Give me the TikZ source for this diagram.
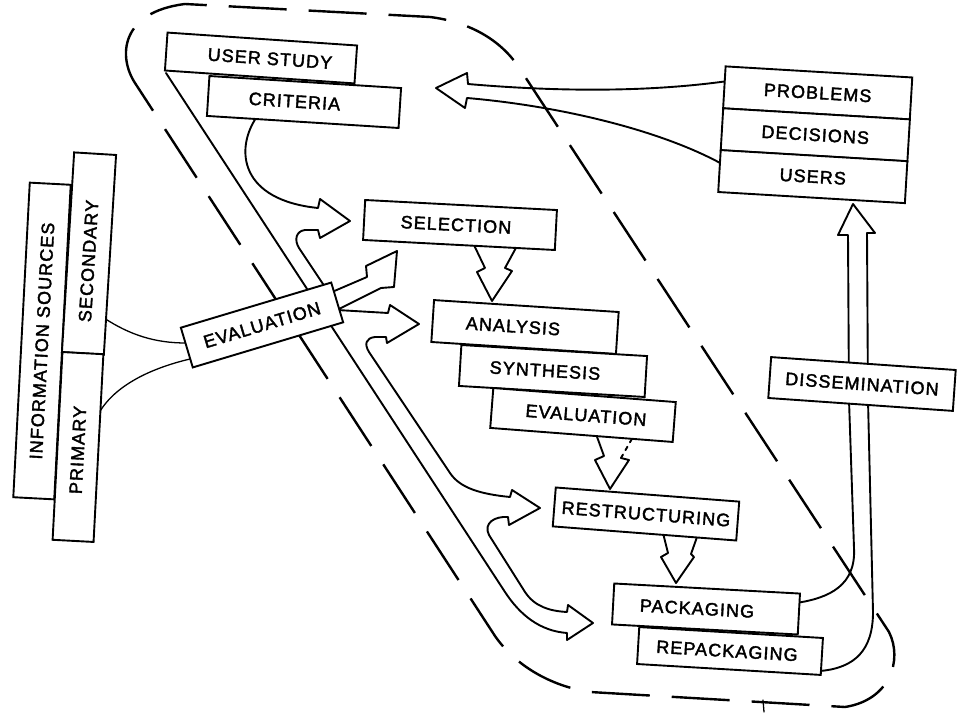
\documentclass[tikz,border=0pt]{standalone}
\usepackage{fontspec}
\newfontfamily\boxfont[LetterSpace=6,FakeBold=2]{Liberation Sans}
\begin{document}
\begin{tikzpicture}[x=1pt,y=-1pt,
  ln/.style={line width=1.9pt,line join=round,line cap=round},
  fine/.style={line width=1.3pt,line cap=round},
  loopline/.style={line width=2.4pt,dash pattern=on 58pt off 22pt},
  box/.style={draw,fill=white,line width=1.9pt,inner sep=0pt,font=\boxfont\fontsize{18}{21}\selectfont},
]
\fill[white] (0,0) rectangle (967,714);
\useasboundingbox (0,0) rectangle (967,714);

% dashed boundary loop
\draw[loopline] (135,83) .. controls (118,57) and (120,12) .. (185,4) -- (430,17)
  .. controls (470,22) and (500,40) .. (518,66) -- (889,632)
  .. controls (903,660) and (890,700) .. (845,707) -- (590,692)
  .. controls (550,686) and (515,665) .. (495,636) -- cycle;
\draw[fine] (763,700) -- (764,712);

% main channel: outer wall, packaging / restructuring / analysis / selection arrows
\draw[ln] (166,73) -- (505,592) .. controls (520,615) and (540,631) .. (567,633)
  -- (567,640) -- (593,623) -- (568,605) -- (567,612)
  .. controls (550,611) and (535,607) .. (525,592) -- (489,535)
  .. controls (483,523) and (495,516) .. (508,517)
  -- (509,525) -- (540,508) -- (512,490) -- (510,497)
  .. controls (480,494) and (460,488) .. (450,473) -- (369,352)
  .. controls (364,344) and (366,338) .. (375,337)
  -- (386,337) -- (387,343) -- (419,324) -- (390,305) -- (388,313) -- (337,310)
  -- (381,288) -- (394,287) -- (397,251) -- (366,266) -- (367,277) -- (332,292);

% criteria -> selection
\draw[ln] (256,118) .. controls (235,150) and (240,200) .. (318,208)
  -- (320,199) -- (350,221) -- (320,238) -- (318,230) -- (305,230)
  .. controls (296,231) and (294,240) .. (299,248) -- (327,290);

% dissemination channel
\draw[ln] (796,603) .. controls (830,598) and (856,585) .. (854,548) -- (849,400) -- (848,235)
  -- (838,235) -- (853,204) -- (875,233) -- (867,233)
  -- (868,400) -- (873,612) .. controls (873,650) and (855,668) .. (820,671);

% problems / users -> criteria
\draw[ln] (728,81) .. controls (650,92) and (560,92) .. (468,84)
  -- (467,73) -- (436,88) -- (465,108) -- (467,98)
  .. controls (560,106) and (660,130) .. (722,164);

% zigzag arrows between stacked boxes
\draw[ln] (473,243) -- (485,268) -- (477,272) -- (492,301) -- (512,271) -- (505,268) -- (517,246);
\draw[ln] (596,434) -- (604,456) -- (595,460) -- (610,489) -- (629,460) -- (621,458);
\draw[ln,dash pattern=on 4pt off 5pt] (621,458) -- (633,437);
\draw[ln] (663,533) -- (668,553) -- (661,557) -- (676,583) -- (694,557) -- (691,554) -- (697,537);

% information sources -> evaluation
\draw[fine] (104,318) .. controls (130,335) and (155,343) .. (186,343);
\draw[fine] (98,415) .. controls (108,395) and (135,372) .. (190,359);

% boxes
\node[box,minimum width=315pt,minimum height=41pt,rotate=87] (info) at (42,341) {INFORMATION SOURCES};
\node[box,minimum width=200pt,minimum height=42pt,rotate=86.5] (sec) at (89,253.5) {SECONDARY\hspace*{15pt}};
\node[box,minimum width=188pt,minimum height=41pt,rotate=87] (pri) at (78,447) {PRIMARY\hspace*{6pt}};
\node[box,minimum width=157pt,minimum height=41.5pt,rotate=16.7] (ev1) at (262,325) {EVALUATION};

\node[box,minimum width=192pt,minimum height=40pt,rotate=-3.6] (cr) at (304,102) {CRITERIA\hspace*{19pt}};
\node[box,minimum width=190pt,minimum height=38pt,rotate=-3.9] (us) at (261,58) {\hspace*{18pt}USER STUDY};
\node[box,minimum width=192pt,minimum height=40pt,rotate=-3.0] (sel) at (460,225) {SELECTION\hspace*{8pt}};
\node[box,minimum width=185pt,minimum height=42pt,rotate=-3.7] (an) at (525,327) {ANALYSIS\hspace*{24pt}};
\node[box,minimum width=186pt,minimum height=41pt,rotate=-3.4] (syn) at (553,371) {SYNTHESIS\hspace*{16pt}};
\node[box,minimum width=183pt,minimum height=40pt,rotate=-4.4] (ev2) at (583,415) {\hspace*{6pt}EVALUATION};
\node[box,minimum width=184pt,minimum height=39pt,rotate=-4.4] (rs) at (646,514) {RESTRUCTURING};
\node[box,minimum width=184pt,minimum height=37pt,rotate=-3.4] (rp) at (730,651) {REPACKAGING\hspace*{6pt}};
\node[box,minimum width=186pt,minimum height=41pt,rotate=-3.1] (pk) at (706,609) {PACKAGING\hspace*{18pt}};
\node[box,minimum width=185pt,minimum height=41pt,rotate=-4.0] (dis) at (862,384) {DISSEMINATION};
\node[box,minimum width=187pt,minimum height=42pt,rotate=-3.4] (prob) at (817.7,92.9) {PROBLEMS};
\node[box,minimum width=187pt,minimum height=42pt,rotate=-3.4] (dec) at (815.3,134.8) {DECISIONS};
\node[box,minimum width=187pt,minimum height=42pt,rotate=-3.4] (usr) at (812.8,176.6) {USERS};
\end{tikzpicture}
\end{document}
